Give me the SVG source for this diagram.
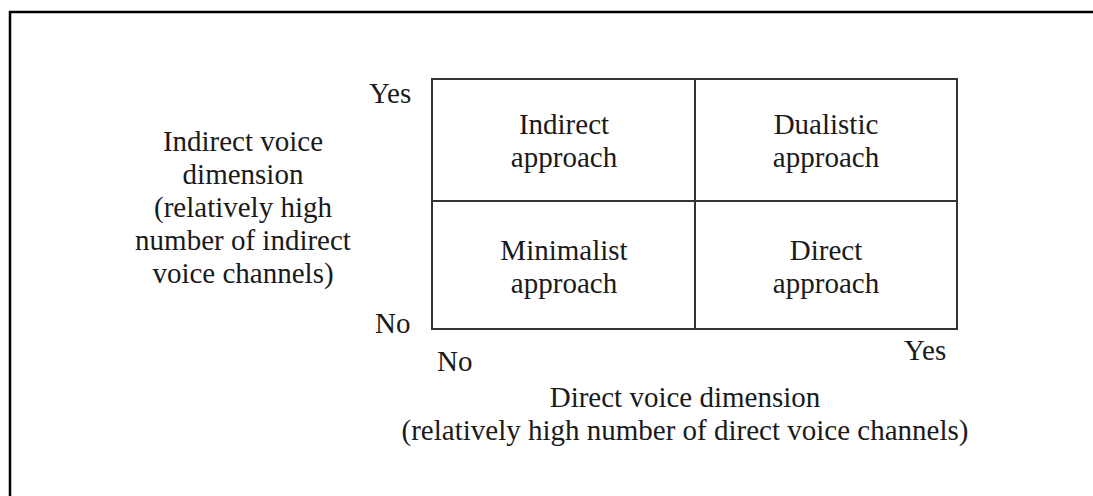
<svg xmlns="http://www.w3.org/2000/svg" width="1093" height="496" viewBox="0 0 1093 496">
<style>
text{font-family:"Liberation Serif","Times New Roman",serif;font-size:29px;fill:#1a1a1a}
.c{text-anchor:middle}
.cell{fill:#fff;stroke:#333;stroke-width:2}
</style>
<rect x="0" y="0" width="1093" height="496" fill="#fff"/>
<rect id="frame" x="10" y="12" width="1200" height="600" fill="none" stroke="#000" stroke-width="2.5"/>
<g id="cell-indirect"><rect class="cell" x="432" y="79" width="263" height="122"/><text class="c" x="564" y="134">Indirect</text><text class="c" x="564" y="167">approach</text></g>
<g id="cell-dualistic"><rect class="cell" x="695" y="79" width="262" height="122"/><text class="c" x="826" y="134">Dualistic</text><text class="c" x="826" y="167">approach</text></g>
<g id="cell-minimalist"><rect class="cell" x="432" y="201" width="263" height="128"/><text class="c" x="564" y="260">Minimalist</text><text class="c" x="564" y="293">approach</text></g>
<g id="cell-direct"><rect class="cell" x="695" y="201" width="262" height="128"/><text class="c" x="826" y="260">Direct</text><text class="c" x="826" y="293">approach</text></g>
<g id="axis-labels">
<text x="369" y="103">Yes</text>
<text x="375" y="333">No</text>
<text x="437" y="371">No</text>
<text x="904" y="360">Yes</text>
</g>
<g id="y-axis-title">
<text class="c" x="243" y="151">Indirect voice</text>
<text class="c" x="243" y="184">dimension</text>
<text class="c" x="243" y="217">(relatively high</text>
<text class="c" x="243" y="250">number of indirect</text>
<text class="c" x="243" y="283">voice channels)</text>
</g>
<g id="x-axis-title">
<text class="c" x="685" y="407">Direct voice dimension</text>
<text class="c" x="685" y="440">(relatively high number of direct voice channels)</text>
</g>
<g id="connectors"></g>
</svg>
